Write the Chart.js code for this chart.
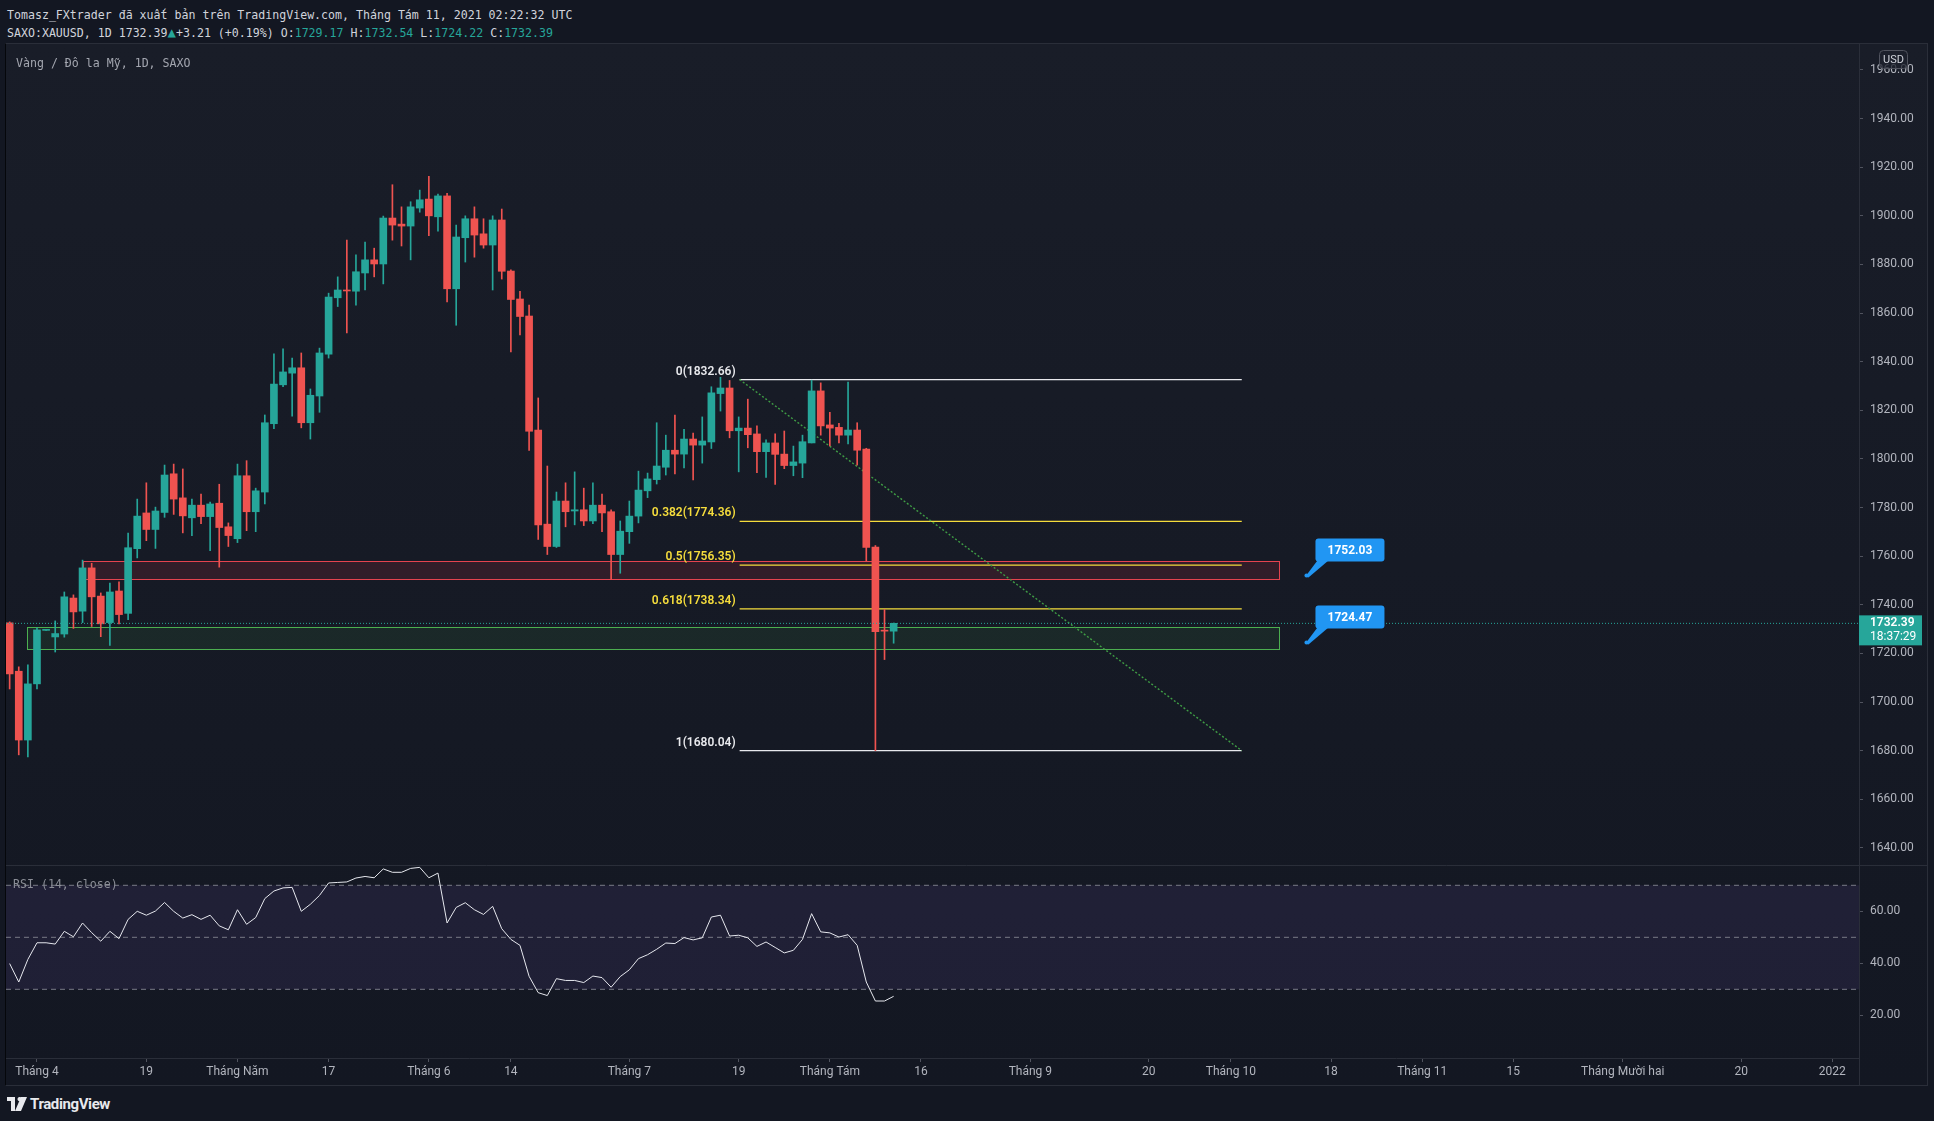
<!DOCTYPE html>
<html lang="vi">
<head>
<meta charset="utf-8">
<title>SAXO:XAUUSD 1D</title>
<script src="https://cdn.jsdelivr.net/npm/chart.js@4.4.1/dist/chart.umd.min.js"></script>
<style>
    html, body { margin: 0; padding: 0; background: #131722; width: 1934px; height: 1121px; overflow: hidden; }
    .mono { position: absolute; font-family: 'DejaVu Sans Mono', monospace; font-size: 11.6px; line-height: 14px; white-space: pre; }
    #hdr1 { left: 7px; top: 8px; color: #d1d4dc; }
    #hdr2 { left: 7px; top: 25px; color: #d1d4dc; }
    #hdr2 .v { color: #26a69a; }
    #hdr2 .tri { color: #26a69a; font-size: 14px; }
    #box { position: absolute; left: 5px; top: 43px; width: 1921px; height: 1041px;
           border: 1px solid #2a2e39; border-left-color: #05070b;
           background: linear-gradient(#191d28, #131722); }
    #box canvas { position: absolute; left: 0; }
    #c1 { top: 0; }
    #c2 { top: 821px; }
    #title { left: 10px; top: 12px; color: #a3a6af; }
    #rsiLabel { left: 7px; top: 833px; color: #8b8e97; }
    #logo { position: absolute; left: 7px; top: 1095px; display: flex; align-items: center; gap: 3px;
            font-family: Roboto, 'Liberation Sans', sans-serif; font-weight: bold; font-size: 15px; color: #e8e9ed; letter-spacing: -0.4px; }
</style>
</head>
<body>
<div id="hdr1" class="mono">Tomasz_FXtrader đã xuất bản trên TradingView.com, Tháng Tám 11, 2021 02:22:32 UTC</div>
<div id="hdr2" class="mono">SAXO:XAUUSD, 1D 1732.39<span class="tri">▲</span>+3.21 (+0.19%) O:<span class="v">1729.17</span> H:<span class="v">1732.54</span> L:<span class="v">1724.22</span> C:<span class="v">1732.39</span></div>

<div id="box">
    <canvas id="c1" width="1921" height="821"></canvas>
    <canvas id="c2" width="1921" height="220"></canvas>
    <div id="title" class="mono">Vàng / Đô la Mỹ, 1D, SAXO</div>
    <div id="rsiLabel" class="mono">RSI (14, close)</div>
</div>

<div id="logo">
    <svg width="20" height="14" viewBox="0 0 20 14"><path d="M0 0h8v14H4V4H0z M10.5 2.2a2.2 2.2 0 1 1 0 .01z M14 0h6l-6 14h-6z" fill="#e8e9ed"/></svg>
    <span>TradingView</span>
</div>

<script>
// nến ngày, thanh 1 = 29/3/2021 ... thanh 98 = 11/8/2021
const opens = [1732.6, 1712.7, 1684.4, 1707.5, 1729.5, 1726.8, 1728.0, 1742.8, 1737.4, 1755.2,
    1743.6, 1732.7, 1745.7, 1736.5, 1763.1, 1777.8, 1771.0, 1778.0, 1793.9, 1784.0,
    1775.8, 1781.0, 1776.3, 1781.8, 1772.1, 1767.2, 1793.1, 1778.3, 1786.4, 1814.5,
    1830.5, 1835.3, 1837.5, 1814.9, 1825.9, 1843.1, 1866.3, 1869.4, 1869.0, 1876.5,
    1881.9, 1880.2, 1899.1, 1896.6, 1895.8, 1903.2, 1906.9, 1899.6, 1908.2, 1870.0,
    1891.0, 1898.8, 1892.6, 1888.0, 1898.3, 1877.3, 1865.8, 1858.8, 1811.9, 1773.2,
    1764.0, 1782.7, 1778.6, 1779.1, 1774.5, 1781.0, 1778.3, 1760.7, 1770.1, 1776.5,
    1786.9, 1791.5, 1796.6, 1803.6, 1802.0, 1808.2, 1805.7, 1807.0, 1826.9, 1829.2,
    1811.6, 1812.7, 1810.3, 1803.0, 1806.6, 1802.0, 1797.3, 1798.3, 1806.6, 1828.0,
    1814.0, 1813.0, 1809.8, 1811.9, 1804.1, 1763.8, 1729.6, 1729.17];
const highs = [1733.0, 1714.5, 1715.3, 1730.5, 1729.6, 1733.4, 1745.3, 1744.1, 1758.4, 1757.1,
    1744.9, 1749.0, 1749.5, 1769.5, 1783.5, 1790.2, 1780.2, 1797.5, 1797.9, 1795.9,
    1783.5, 1785.6, 1782.3, 1789.6, 1773.7, 1797.9, 1799.3, 1788.0, 1818.1, 1843.2,
    1845.3, 1841.5, 1843.6, 1828.8, 1845.6, 1868.2, 1874.9, 1890.0, 1884.0, 1889.2,
    1886.7, 1899.9, 1912.8, 1903.7, 1905.8, 1910.6, 1916.3, 1909.0, 1909.3, 1896.2,
    1900.0, 1903.7, 1898.8, 1900.0, 1902.8, 1877.8, 1869.0, 1863.3, 1825.1, 1797.1,
    1786.4, 1790.2, 1794.7, 1788.0, 1790.2, 1785.6, 1779.1, 1774.5, 1782.7, 1795.0,
    1794.2, 1814.9, 1809.8, 1818.1, 1812.2, 1810.6, 1817.3, 1829.7, 1833.6, 1832.3,
    1817.3, 1824.6, 1813.6, 1807.9, 1810.3, 1811.5, 1805.3, 1809.8, 1832.4, 1831.3,
    1819.2, 1814.7, 1831.6, 1814.9, 1804.4, 1764.4, 1738.1, 1732.54];
const lows = [1705.4, 1678.3, 1677.5, 1705.4, 1729.5, 1720.6, 1726.7, 1730.3, 1732.7, 1731.1,
    1726.9, 1723.3, 1732.2, 1733.9, 1759.3, 1766.4, 1763.2, 1776.0, 1777.2, 1769.6,
    1768.5, 1773.4, 1762.3, 1755.5, 1764.0, 1765.6, 1770.5, 1770.1, 1781.5, 1812.5,
    1829.7, 1817.6, 1812.8, 1808.2, 1819.2, 1841.5, 1862.7, 1851.8, 1863.3, 1869.5,
    1874.9, 1872.0, 1890.0, 1887.6, 1881.9, 1901.5, 1891.8, 1893.7, 1864.6, 1855.0,
    1881.0, 1883.0, 1886.7, 1869.5, 1874.0, 1844.0, 1851.0, 1803.5, 1766.9, 1760.7,
    1763.6, 1772.1, 1772.9, 1772.6, 1773.4, 1770.1, 1750.6, 1753.0, 1765.3, 1773.7,
    1784.1, 1789.7, 1793.4, 1793.9, 1796.3, 1791.4, 1798.3, 1804.3, 1819.7, 1808.7,
    1794.7, 1804.6, 1794.4, 1792.4, 1789.5, 1796.0, 1793.1, 1792.3, 1806.6, 1809.8,
    1805.4, 1806.6, 1806.2, 1797.5, 1758.0, 1680.04, 1717.5, 1724.22];
const closes = [1711.6, 1684.4, 1707.5, 1729.7, 1729.6, 1728.2, 1743.3, 1737.1, 1755.2, 1743.3,
    1732.2, 1745.3, 1736.0, 1763.5, 1776.5, 1771.0, 1778.6, 1793.4, 1783.5, 1776.6,
    1781.0, 1776.3, 1781.5, 1771.8, 1768.5, 1793.1, 1778.3, 1786.9, 1814.9, 1830.8,
    1835.8, 1837.5, 1814.9, 1826.2, 1843.6, 1866.6, 1869.5, 1869.1, 1877.0, 1881.9,
    1880.2, 1899.1, 1896.2, 1895.8, 1903.7, 1906.6, 1900.0, 1908.2, 1870.0, 1891.3,
    1898.8, 1892.1, 1888.0, 1898.3, 1877.2, 1865.6, 1858.6, 1811.4, 1772.9, 1764.0,
    1782.7, 1778.3, 1779.1, 1774.5, 1781.0, 1777.8, 1760.7, 1770.3, 1776.5, 1787.2,
    1791.8, 1797.1, 1803.6, 1802.0, 1808.2, 1805.7, 1807.4, 1827.2, 1829.2, 1811.6,
    1812.7, 1810.0, 1803.0, 1806.6, 1801.9, 1797.3, 1798.8, 1807.1, 1828.0, 1813.6,
    1812.7, 1809.8, 1811.9, 1803.6, 1763.6, 1729.0, 1729.18, 1732.39];
const rsiValues = [39.9, 32.8, 41.5, 47.9, 47.9, 47.4, 52.3, 50.2, 55.5, 51.8,
    48.5, 52.3, 49.5, 56.9, 60.0, 58.5, 60.1, 63.4, 60.0, 57.4,
    58.7, 56.9, 58.5, 54.4, 52.9, 60.6, 55.0, 57.6, 64.9, 67.8,
    69.0, 69.2, 60.0, 62.7, 66.1, 70.9, 71.1, 71.3, 72.8, 73.4,
    72.9, 76.3, 75.0, 75.0, 76.5, 76.9, 72.9, 74.7, 55.5, 61.5,
    63.3, 60.6, 58.8, 61.9, 53.3, 49.2, 46.9, 35.0, 28.7, 27.6,
    34.1, 33.4, 33.4, 32.6, 35.1, 34.5, 30.8, 34.9, 37.5, 41.8,
    43.3, 45.4, 47.8, 47.6, 49.9, 49.0, 49.8, 57.8, 58.5, 50.5,
    50.8, 49.8, 46.5, 48.2, 46.1, 44.0, 45.0, 49.2, 59.1, 52.1,
    51.7, 50.1, 51.0, 46.9, 32.8, 25.5, 25.5, 27.3];

// trục thời gian (chỉ số thanh, kể cả các ngày tương lai)
const timeTickIdx = [4, 16, 26, 36, 47, 56, 69, 81, 91, 101, 113, 126, 135, 146, 156, 166, 178, 191, 201];
const timeTickLabels = ['Tháng 4', '19', 'Tháng Năm', '17', 'Tháng 6', '14', 'Tháng 7', '19', 'Tháng Tám', '16',
    'Tháng 9', '20', 'Tháng 10', '18', 'Tháng 11', '15', 'Tháng Mười hai', '20', '2022'];
const priceTicks = [1640, 1660, 1680, 1700, 1720, 1740, 1760, 1780, 1800, 1820, 1840, 1860, 1880, 1900, 1920, 1940, 1960];
const rsiTicks = [20, 40, 60];
const rsiLevels = [70, 50, 30];

// Fibonacci
const fibRatios = [0, 0.382, 0.5, 0.618, 1];
const fibHigh = 1832.66;
const fibLow = 1680.04;
const fibSpan = [81.1, 136.2];

// vùng hỗ trợ / kháng cự
const zoneFrom = [9.0, 2.9];
const zoneTo = [140.3, 140.3];
const zoneTop = [1758.0, 1730.9];
const zoneBottom = [1750.6, 1721.7];

const calloutIdx = 143.3;
const calloutPrices = [1752.03, 1724.47];
const lastPrice = 1732.39;
const countdown = '18:37:29';

const X_MIN = 0.6, X_MAX = 203.93;
const UP = '#26a69a', DOWN = '#ef5350';
const AXIS_W = 68;

Chart.defaults.font.family = "Roboto, 'Liberation Sans', sans-serif";
Chart.defaults.font.size = 12;
Chart.defaults.color = '#b2b5be';

const barIdx = opens.map((_, i) => i + 1);
const barColors = opens.map((o, i) => closes[i] >= o ? UP : DOWN);
const fibPrice = r => fibHigh - r * (fibHigh - fibLow);

function hLine(y, x1, x2) {
    return [{ x: x1, y: y }, { x: x2, y: y }];
}

function fixAxisWidth(scale) {
    scale.width = AXIS_W;
    scale.paddingTop = 0;
    scale.paddingBottom = 0;
}

const priceOverlay = {
    id: 'priceOverlay',
    beforeDatasetsDraw(chart) {
        const { ctx, scales: { x, y } } = chart;
        const fills = ['rgba(242, 54, 69, 0.13)', 'rgba(76, 175, 80, 0.10)'];
        const lines = ['#e5434f', '#4caf50'];
        ctx.save();
        zoneFrom.forEach((from, i) => {
            const x1 = Math.round(x.getPixelForValue(from)) + 0.5;
            const x2 = Math.round(x.getPixelForValue(zoneTo[i])) + 0.5;
            const y1 = Math.round(y.getPixelForValue(zoneTop[i])) + 0.5;
            const y2 = Math.round(y.getPixelForValue(zoneBottom[i])) + 0.5;
            ctx.fillStyle = fills[i];
            ctx.fillRect(x1, y1, x2 - x1, y2 - y1);
            ctx.strokeStyle = lines[i];
            ctx.lineWidth = 1;
            ctx.strokeRect(x1, y1, x2 - x1, y2 - y1);
        });
        ctx.restore();
    },
    afterDatasetsDraw(chart) {
        const { ctx, scales: { x, y } } = chart;
        ctx.save();
        // nhãn Fibonacci
        ctx.font = '600 12px Roboto, sans-serif';
        ctx.textAlign = 'right';
        ctx.textBaseline = 'middle';
        const fx = x.getPixelForValue(fibSpan[0]) - 4;
        fibRatios.forEach(r => {
            const p = fibPrice(r);
            ctx.fillStyle = (r === 0 || r === 1) ? '#e8e9ed' : '#f5dc3c';
            ctx.fillText(`${r}(${p.toFixed(2)})`, fx, y.getPixelForValue(p) - 8);
        });
        // chú thích giá
        const ax = x.getPixelForValue(calloutIdx);
        ctx.fillStyle = '#2196f3';
        calloutPrices.forEach(p => {
            const ay = y.getPixelForValue(p);
            const bx = ax + 9, bw = 69, by = ay - 37, bh = 23;
            ctx.beginPath();
            ctx.roundRect(bx, by, bw, bh, 3);
            ctx.fill();
            ctx.beginPath();
            ctx.moveTo(ax - 1, ay + 1);
            ctx.lineTo(ax + 11, by + bh - 1);
            ctx.lineTo(ax + 22, by + bh - 1);
            ctx.lineTo(ax + 2, ay + 2);
            ctx.closePath();
            ctx.fill();
            ctx.beginPath();
            ctx.arc(ax, ay, 2, 0, Math.PI * 2);
            ctx.fill();
            ctx.save();
            ctx.fillStyle = '#ffffff';
            ctx.font = 'bold 12px Roboto, sans-serif';
            ctx.textAlign = 'center';
            ctx.fillText(p.toFixed(2), bx + bw / 2, by + bh / 2 + 1);
            ctx.restore();
        });
        ctx.restore();
    },
    afterDraw(chart) {
        const { ctx, chartArea, scales: { y } } = chart;
        const r = chartArea.right;
        ctx.save();
        // nhãn USD
        ctx.fillStyle = 'rgba(30, 34, 45, 0.75)';
        ctx.strokeStyle = '#50535e';
        ctx.beginPath();
        ctx.roundRect(r + 20.5, 6.5, 28, 18, 4);
        ctx.fill();
        ctx.stroke();
        ctx.fillStyle = '#d1d4dc';
        ctx.font = '11px Roboto, sans-serif';
        ctx.textAlign = 'center';
        ctx.textBaseline = 'middle';
        ctx.fillText('USD', r + 34.5, 16);
        // giá hiện tại trên trục
        const py = y.getPixelForValue(lastPrice);
        ctx.fillStyle = UP;
        ctx.fillRect(r, py - 8, 63, 30);
        ctx.fillStyle = '#ffffff';
        ctx.textAlign = 'left';
        ctx.font = '600 12px Roboto, sans-serif';
        ctx.fillText(lastPrice.toFixed(2), r + 11, py);
        ctx.font = '12px Roboto, sans-serif';
        ctx.fillText(countdown, r + 11, py + 14);
        ctx.restore();
    }
};

const fibDatasets = fibRatios.map(r => ({
    type: 'line',
    data: hLine(fibPrice(r), fibSpan[0], fibSpan[1]),
    borderColor: (r === 0 || r === 1) ? '#e8e9ed' : '#f5dc3c',
    borderWidth: 1.2,
    pointRadius: 0,
    order: 5
}));

new Chart(document.getElementById('c1'), {
    type: 'bar',
    data: {
        datasets: [
            {
                data: barIdx.map((x, i) => ({ x: x, y: [opens[i], closes[i]] })),
                backgroundColor: barColors,
                barThickness: 7,
                minBarLength: 1,
                grouped: false,
                order: 1
            },
            {
                data: barIdx.map((x, i) => ({ x: x, y: [lows[i], highs[i]] })),
                backgroundColor: barColors,
                barThickness: 1,
                grouped: false,
                order: 2
            },
            ...fibDatasets,
            {
                type: 'line',
                data: [{ x: fibSpan[0], y: fibHigh }, { x: fibSpan[1], y: fibLow }],
                borderColor: '#3f9c45',
                borderWidth: 1.4,
                borderDash: [2, 2],
                pointRadius: 0,
                order: 4
            },
            {
                type: 'line',
                data: hLine(lastPrice, X_MIN, X_MAX),
                borderColor: UP,
                borderWidth: 1,
                borderDash: [1, 2],
                pointRadius: 0,
                order: 0
            }
        ]
    },
    options: {
        responsive: false,
        devicePixelRatio: 1,
        animation: false,
        events: [],
        layout: { padding: 0, autoPadding: false },
        plugins: { legend: { display: false }, tooltip: { enabled: false } },
        scales: {
            x: {
                type: 'linear',
                min: X_MIN,
                max: X_MAX,
                offset: false,
                display: false
            },
            y: {
                position: 'right',
                min: 1633.0,
                max: 1970.68,
                afterBuildTicks: s => { s.ticks = priceTicks.map(v => ({ value: v })); },
                afterFit: fixAxisWidth,
                ticks: {
                    color: '#b2b5be',
                    padding: 7,
                    callback: v => v.toFixed(2)
                },
                grid: { drawOnChartArea: false, drawTicks: true, tickLength: 4, color: '#50535e' },
                border: { display: true, color: '#2a2e39' }
            }
        }
    },
    plugins: [priceOverlay]
});

const rsiFrame = {
    id: 'rsiFrame',
    afterDraw(chart) {
        const { ctx, chartArea } = chart;
        ctx.save();
        ctx.strokeStyle = '#2a2e39';
        ctx.lineWidth = 1;
        ctx.beginPath();
        ctx.moveTo(0, 0.5);
        ctx.lineTo(chart.width, 0.5);
        ctx.moveTo(chartArea.right + 0.5, chartArea.bottom);
        ctx.lineTo(chartArea.right + 0.5, chart.height);
        ctx.stroke();
        ctx.restore();
    }
};

new Chart(document.getElementById('c2'), {
    type: 'line',
    data: {
        datasets: [
            {
                data: hLine(rsiLevels[0], X_MIN, X_MAX),
                borderWidth: 0,
                pointRadius: 0,
                fill: { value: rsiLevels[2] },
                backgroundColor: 'rgba(126, 87, 194, 0.12)',
                order: 5
            },
            ...rsiLevels.map(v => ({
                data: hLine(v, X_MIN, X_MAX),
                borderColor: '#787b86',
                borderWidth: 1,
                borderDash: [5, 4],
                pointRadius: 0,
                order: 4
            })),
            {
                data: barIdx.map((x, i) => ({ x: x, y: rsiValues[i] })),
                borderColor: '#e6e8ee',
                borderWidth: 1,
                pointRadius: 0,
                tension: 0,
                order: 1
            }
        ]
    },
    options: {
        responsive: false,
        devicePixelRatio: 1,
        animation: false,
        events: [],
        layout: { padding: 0, autoPadding: false },
        plugins: { legend: { display: false }, tooltip: { enabled: false } },
        scales: {
            x: {
                type: 'linear',
                min: X_MIN,
                max: X_MAX,
                offset: false,
                afterBuildTicks: s => { s.ticks = timeTickIdx.map(v => ({ value: v })); },
                afterFit: s => { s.height = 27; s.paddingLeft = 0; s.paddingRight = 0; },
                ticks: {
                    color: '#b2b5be',
                    padding: 3,
                    autoSkip: false,
                    maxRotation: 0,
                    callback: v => timeTickLabels[timeTickIdx.indexOf(v)]
                },
                grid: { drawOnChartArea: false, drawTicks: true, tickLength: 4, color: '#50535e' },
                border: { display: true, color: '#2a2e39' }
            },
            y: {
                position: 'right',
                min: 3.58,
                max: 77.81,
                afterBuildTicks: s => { s.ticks = rsiTicks.map(v => ({ value: v })); },
                afterFit: fixAxisWidth,
                ticks: {
                    color: '#b2b5be',
                    padding: 7,
                    callback: v => v.toFixed(2)
                },
                grid: { drawOnChartArea: false, drawTicks: true, tickLength: 4, color: '#50535e' },
                border: { display: true, color: '#2a2e39' }
            }
        }
    },
    plugins: [rsiFrame]
});
</script>
</body>
</html>
